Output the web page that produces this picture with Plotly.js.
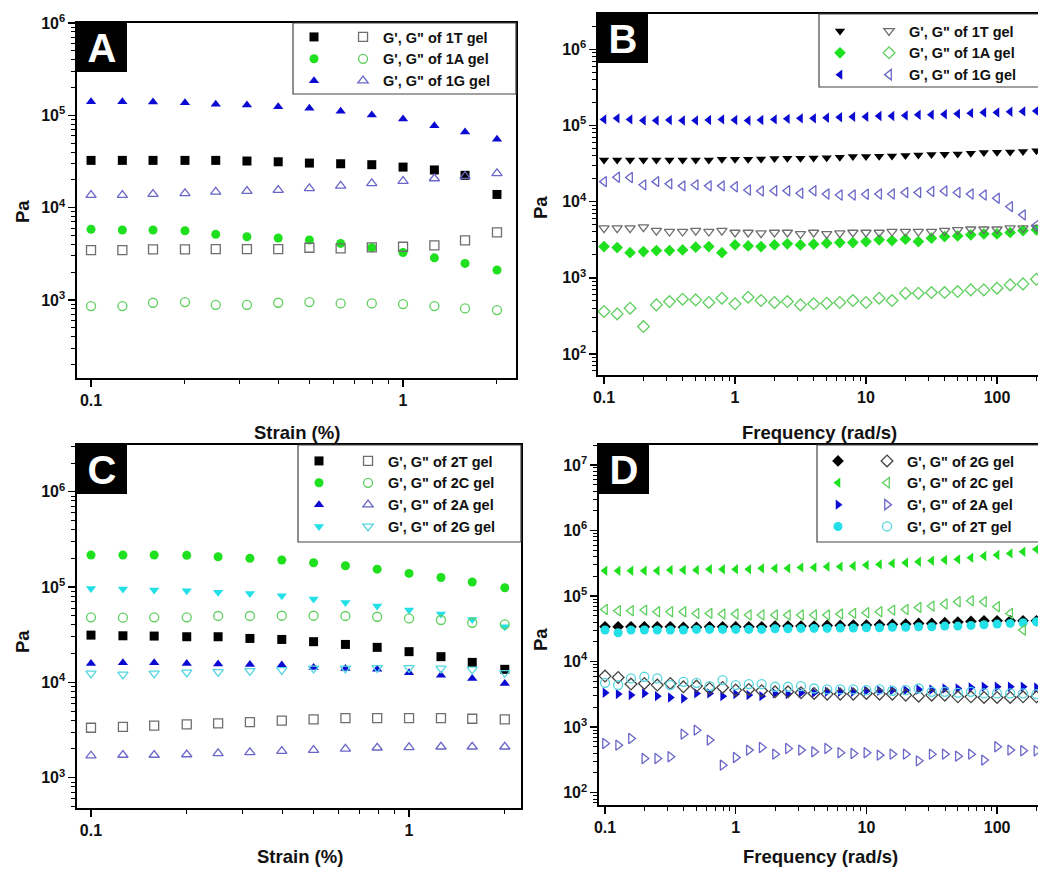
<!DOCTYPE html>
<html><head><meta charset="utf-8">
<script src="https://cdn.plot.ly/plotly-3.0.1.min.js"></script>
<style>html,body{margin:0;padding:0;background:#fff}#chart{width:1038px;height:869px}</style>
</head><body><div id="chart"></div>
<script>
// ---------- x values ----------
const strain = [0.1,0.126,0.158,0.2,0.251,0.316,0.398,0.501,0.631,0.794,1,1.26,1.58,2];
const freq = [0.1,0.126,0.158,0.2,0.251,0.316,0.398,0.501,0.631,0.794,1,1.26,1.58,2,2.51,3.16,3.98,5.01,6.31,7.94,10,12.6,15.8,20,25.1,31.6,39.8,50.1,63.1,79.4,100,126,158,200];
const freq33 = [0.1,0.126,0.158,0.2,0.251,0.316,0.398,0.501,0.631,0.794,1,1.26,1.58,2,2.51,3.16,3.98,5.01,6.31,7.94,10,12.6,15.8,20,25.1,31.6,39.8,50.1,63.1,79.4,100,126,158];

// ---------- Panel A (strain sweep, gels 1) ----------
const A_1T_Gp  = [32500,32500,32500,32500,32500,32000,31400,30400,29900,29200,27500,25600,22400,13900];
const A_1A_Gp  = [5820,5720,5720,5620,5140,4840,4690,4460,4100,3680,3270,2860,2490,2110];
const A_1G_Gp  = [140000,140000,139000,137000,132000,129000,124000,119000,111000,101000,91000,77000,66000,55000];
const A_1T_Gpp = [3470,3470,3530,3530,3560,3560,3560,3680,3620,3710,3770,3900,4420,5400];
const A_1A_Gpp = [860,860,933,948,887,887,933,948,918,918,903,860,811,778];
const A_1G_Gpp = [13700,13700,14000,14300,14800,15100,15500,16200,17200,18300,19400,20700,22000,23500];

// ---------- Panel B (frequency sweep, gels 1) ----------
const B_1T_Gp  = [35300,35300,35300,35300,35300,35300,35300,35300,35300,36000,36000,36000,36300,36700,37100,37100,37500,37800,38200,39000,39000,39400,39800,40200,41000,41400,41800,42300,43100,44000,44500,44900,45400,46700];
const B_1A_Gp  = [2570,2490,2140,2210,2280,2280,2320,2520,2570,2140,2700,2620,2570,2700,2790,2700,2760,2850,2900,2900,2990,3150,3080,3210,2990,3310,3480,3550,3660,3770,3770,3930,4170,4260];
const B_1G_Gp  = [120000,124000,120000,116000,116000,118000,116000,116000,118000,120000,118000,116000,118000,120000,122000,124000,124000,126000,128000,130000,130000,133000,133000,135000,138000,138000,140000,142000,145000,148000,148000,151000,153000,155000];
const B_1T_Gpp = [4480,4480,4480,4620,4170,4050,4050,4170,4050,4170,3930,3930,3850,3930,3930,3770,3930,3770,3850,3930,3930,3930,4050,4050,4050,4050,4170,4260,4340,4340,4340,4480,4480,4570];
const B_1A_Gpp = [361,336,399,229,441,488,524,513,474,540,455,556,503,474,488,441,455,464,474,503,474,540,503,628,628,640,640,660,694,694,730,807,832,957];
const B_1G_Gpp = [18300,20900,20700,16600,18300,17100,16100,16600,16100,16100,15700,14200,13800,13900,13900,12900,13900,12600,12200,12200,12500,12600,12600,13200,13200,13600,13800,13200,12600,12200,11100,8600,6700,4900];

// ---------- Panel C (strain sweep, gels 2) ----------
const C_2T_Gp  = [31300,30800,30600,30100,30100,28900,28200,26700,25000,23300,21000,18600,16200,13700];
const C_2C_Gp  = [217000,217000,217000,215000,208000,200000,192000,180000,167000,154000,139000,126000,113000,98300];
const C_2A_Gp  = [15800,16100,16100,15800,15600,15400,15200,14300,14000,13700,12600,11900,11000,9750];
const C_2G_Gp  = [96800,95300,92900,91500,87900,85700,81100,74800,69000,63100,57300,52000,45700,38300];
const C_2T_Gpp = [3340,3420,3510,3620,3710,3830,3960,4090,4220,4220,4220,4220,4150,4090];
const C_2C_Gpp = [48100,47700,48100,48100,49700,49700,50000,50000,49700,48800,46900,45100,42200,40600];
const C_2A_Gpp = [1700,1730,1730,1750,1800,1840,1900,1950,2010,2060,2080,2110,2110,2110];
const C_2G_Gpp = [12400,12100,12400,12700,12900,13200,13500,14000,14000,14200,14200,14000,13700,12600];

// ---------- Panel D (frequency sweep, gels 2) ----------
const D_2G_Gp  = [34000,34000,34000,34000,34000,34000,33300,33300,34000,34000,34000,34000,34000,34800,34800,34800,34800,35700,35700,36100,36100,36500,36900,37400,38300,38300,39200,40100,41000,42000,42000,42000,42000,42000];
const D_2C_Gp  = [244000,244000,244000,244000,244000,250000,250000,250000,256000,256000,256000,256000,265000,265000,265000,274000,274000,281000,281000,287000,297000,304000,315000,323000,334000,346000,355000,363000,385000,408000,423000,448000,475000,516000];
const D_2A_Gp  = [3340,3190,3080,3270,2970,2840,2740,3270,3270,2970,3190,3080,2970,3270,3190,3340,3340,3460,3460,3460,3590,3590,3670,3670,3760,3760,3890,3890,4030,4130,4130,4130,4130,4030];
const D_2T_Gp  = [30300,27600,30300,30300,30300,30300,30300,31000,31000,31000,31000,31000,31000,31700,31700,32100,32100,32100,32500,32500,32800,32800,33300,33300,34000,34000,34800,34800,35700,36500,37400,38300,39200,40600];
const D_2G_Gpp = [6010,5730,4540,4640,4380,4640,4130,4230,3890,4030,3670,3760,3590,3460,3460,3340,3270,3190,3190,3190,3270,3190,3190,3080,2970,3080,3080,2900,2900,2840,2840,2840,2900,2900];
const D_2C_Gpp = [62500,59700,59700,61100,57700,57700,57700,54400,54400,53100,53100,51300,51300,51300,51300,51300,51300,51300,53100,54400,55600,57700,61100,62500,67100,70300,75500,82000,84900,82000,68700,54400,30300];
const D_2A_Gpp = [564,531,671,333,333,353,782,900,634,263,345,446,490,387,472,446,420,472,406,396,406,374,387,387,306,387,387,361,387,314,501,446,436,436];
const D_2T_Gpp = [4750,4380,5530,5870,5530,4380,4920,4750,4230,5220,4380,4540,4540,4130,4130,4230,3890,3760,3760,3760,3670,3760,3590,3670,3890,3460,3460,3340,3460,3270,3270,3270,3270,3190];

// ---------- labels ----------
const namesA = ["G', G\" of 1T gel", "G', G\" of 1A gel", "G', G\" of 1G gel"];
const namesB = ["G', G\" of 1T gel", "G', G\" of 1A gel", "G', G\" of 1G gel"];
const namesC = ["G', G\" of 2T gel", "G', G\" of 2C gel", "G', G\" of 2A gel", "G', G\" of 2G gel"];
const namesD = ["G', G\" of 2G gel", "G', G\" of 2C gel", "G', G\" of 2A gel", "G', G\" of 2T gel"];
const strainTicks = [0.1, 1];
const strainTickText = ['0.1', '1'];
const freqTicks = [0.1, 1, 10, 100];
const freqTickText = ['0.1', '1', '10', '100'];

// ---------- colours ----------
const C_BLACK = '#000000', C_GRAY = '#6e6e6e', C_GREEN = '#1ee01e', C_LGREEN = '#5fcf5f',
      C_BLUE = '#0a0ad2', C_PURPLE = '#6a66c8', C_CYAN = '#22dfe8', C_LCYAN = '#55d6e0', C_DGRAY = '#444444';

const FONT = 'Liberation Sans, Arial, sans-serif';
const W = 1038, H = 869;
const px = v => v / W, py = v => 1 - v / H;

function mk(x, y, xa, ya, sym, color, open, name, leg, grp) {
  return {
    type: 'scatter', mode: 'markers', x: x, y: y, xaxis: xa, yaxis: ya,
    name: name, legend: leg, legendgroup: grp, showlegend: true, cliponaxis: true,
    marker: open ? {symbol: sym + '-open', size: 9, color: color, line: {width: 1.3, color: color}}
                 : {symbol: sym, size: 9, color: color, line: {width: 0}},
    hoverinfo: 'x+y'
  };
}

const data = [
  // A
  mk(strain, A_1T_Gp, 'x', 'y', 'square', C_BLACK, false, ' ', 'legend', 'Af'),
  mk(strain, A_1A_Gp, 'x', 'y', 'circle', C_GREEN, false, ' ', 'legend', 'Af'),
  mk(strain, A_1G_Gp, 'x', 'y', 'triangle-up', C_BLUE, false, ' ', 'legend', 'Af'),
  mk(strain, A_1T_Gpp, 'x', 'y', 'square', C_GRAY, true, namesA[0], 'legend', 'Ao'),
  mk(strain, A_1A_Gpp, 'x', 'y', 'circle', C_LGREEN, true, namesA[1], 'legend', 'Ao'),
  mk(strain, A_1G_Gpp, 'x', 'y', 'triangle-up', C_PURPLE, true, namesA[2], 'legend', 'Ao'),
  // B
  mk(freq, B_1T_Gp, 'x2', 'y2', 'triangle-down', C_BLACK, false, ' ', 'legend2', 'Bf'),
  mk(freq, B_1A_Gp, 'x2', 'y2', 'diamond', C_GREEN, false, ' ', 'legend2', 'Bf'),
  mk(freq, B_1G_Gp, 'x2', 'y2', 'triangle-left', C_BLUE, false, ' ', 'legend2', 'Bf'),
  mk(freq, B_1T_Gpp, 'x2', 'y2', 'triangle-down', C_GRAY, true, namesB[0], 'legend2', 'Bo'),
  mk(freq, B_1A_Gpp, 'x2', 'y2', 'diamond', C_LGREEN, true, namesB[1], 'legend2', 'Bo'),
  mk(freq, B_1G_Gpp, 'x2', 'y2', 'triangle-left', C_PURPLE, true, namesB[2], 'legend2', 'Bo'),
  // C
  mk(strain, C_2T_Gp, 'x3', 'y3', 'square', C_BLACK, false, ' ', 'legend3', 'Cf'),
  mk(strain, C_2C_Gp, 'x3', 'y3', 'circle', C_GREEN, false, ' ', 'legend3', 'Cf'),
  mk(strain, C_2A_Gp, 'x3', 'y3', 'triangle-up', C_BLUE, false, ' ', 'legend3', 'Cf'),
  mk(strain, C_2G_Gp, 'x3', 'y3', 'triangle-down', C_CYAN, false, ' ', 'legend3', 'Cf'),
  mk(strain, C_2T_Gpp, 'x3', 'y3', 'square', C_GRAY, true, namesC[0], 'legend3', 'Co'),
  mk(strain, C_2C_Gpp, 'x3', 'y3', 'circle', C_LGREEN, true, namesC[1], 'legend3', 'Co'),
  mk(strain, C_2A_Gpp, 'x3', 'y3', 'triangle-up', C_PURPLE, true, namesC[2], 'legend3', 'Co'),
  mk(strain, C_2G_Gpp, 'x3', 'y3', 'triangle-down', C_LCYAN, true, namesC[3], 'legend3', 'Co'),
  // D
  mk(freq, D_2G_Gp, 'x4', 'y4', 'diamond', C_BLACK, false, ' ', 'legend4', 'Df'),
  mk(freq, D_2C_Gp, 'x4', 'y4', 'triangle-left', C_GREEN, false, ' ', 'legend4', 'Df'),
  mk(freq, D_2A_Gp, 'x4', 'y4', 'triangle-right', C_BLUE, false, ' ', 'legend4', 'Df'),
  mk(freq, D_2T_Gp, 'x4', 'y4', 'circle', C_CYAN, false, ' ', 'legend4', 'Df'),
  mk(freq, D_2G_Gpp, 'x4', 'y4', 'diamond', C_DGRAY, true, namesD[0], 'legend4', 'Do'),
  mk(freq33, D_2C_Gpp, 'x4', 'y4', 'triangle-left', C_LGREEN, true, namesD[1], 'legend4', 'Do'),
  mk(freq, D_2A_Gpp, 'x4', 'y4', 'triangle-right', C_PURPLE, true, namesD[2], 'legend4', 'Do'),
  mk(freq, D_2T_Gpp, 'x4', 'y4', 'circle', C_LCYAN, true, namesD[3], 'legend4', 'Do')
];

function minorVals(lo, hi) {
  const v = [];
  for (let e = lo; e <= hi; e++) for (let m = 2; m <= 9; m++) v.push(m * Math.pow(10, e));
  return v;
}
const tickFont = {family: FONT, size: 16, weight: 'bold', color: '#111'};
function axis(type, domain, range, anchor, tickvals, ticktext, minor) {
  return {
    type: 'log', domain: domain, range: range, anchor: anchor, autorange: false,
    showline: true, linecolor: '#000', linewidth: 1.6, mirror: true,
    ticks: 'outside', ticklen: 7, tickwidth: 1.5, tickcolor: '#000',
    tickmode: 'array', tickvals: tickvals, ticktext: ticktext, tickfont: tickFont,
    showgrid: false, zeroline: false, automargin: false, fixedrange: true,
    minor: {tickmode: 'array', tickvals: minor, ticks: 'outside', ticklen: 4, tickwidth: 1, tickcolor: '#000', showgrid: false}
  };
}
function decTicks(lo, hi) {
  const v = [], t = [];
  for (let e = lo; e <= hi; e++) { v.push(Math.pow(10, e)); t.push('10<sup>' + e + '</sup>'); }
  return [v, t];
}
const yA = decTicks(3, 6), yB = decTicks(2, 6), yC = decTicks(3, 6), yD = decTicks(2, 7);

const legFont = {family: FONT, size: 14.5, weight: 'bold', color: '#111'};
function leg(x, y) {
  return {x: px(x), y: py(y), xanchor: 'left', yanchor: 'top', orientation: 'h', traceorder: 'grouped',
          bgcolor: 'rgba(0,0,0,0)', borderwidth: 0, font: legFont, tracegroupgap: 0, itemclick: false, itemdoubleclick: false};
}

const titleFont = {family: FONT, size: 18.5, weight: 'bold', color: '#111'};
function ann(text, x, y, angle) {
  return {text: text, xref: 'paper', yref: 'paper', x: px(x), y: py(y), xanchor: 'center', yanchor: 'middle',
          showarrow: false, font: titleFont, textangle: angle || 0};
}
function panel(letter, x, y) {
  return {text: letter, xref: 'paper', yref: 'paper', x: px(x), y: py(y), xanchor: 'left', yanchor: 'top',
          showarrow: false, bgcolor: '#000', width: 50, height: 49, borderpad: 0, borderwidth: 0,
          font: {family: FONT, size: 40, weight: 'bold', color: '#fff'}};
}
function box(x0, y0, x1, y1) {
  return {type: 'rect', xref: 'paper', yref: 'paper', x0: px(x0), x1: px(x1), y0: py(y1), y1: py(y0),
          line: {color: '#444', width: 1.2}, fillcolor: 'rgba(0,0,0,0)', layer: 'above'};
}

const layout = {
  width: W, height: H, margin: {l: 0, r: 0, t: 0, b: 0},
  paper_bgcolor: '#fff', plot_bgcolor: '#fff', showlegend: true,
  font: {family: FONT, color: '#111'},
  xaxis:  axis('log', [px(77), px(516)], [-1.045, 0.362], 'y', strainTicks, strainTickText, minorVals(-1, 0)),
  yaxis:  axis('log', [py(378), py(23)], [2.155, 6], 'x', yA[0], yA[1], minorVals(2, 5)),
  xaxis2: axis('log', [px(598), 1], [-1.046, 2.313], 'y2', freqTicks, freqTickText, minorVals(-1, 2)),
  yaxis2: axis('log', [py(375), py(14)], [1.724, 6.463], 'x2', yB[0], yB[1], minorVals(1, 6)),
  xaxis3: axis('log', [px(77), px(521)], [-1.044, 0.352], 'y3', strainTicks, strainTickText, minorVals(-1, 0)),
  yaxis3: axis('log', [py(808), py(445)], [2.682, 6.49], 'x3', yC[0], yC[1], minorVals(2, 6)),
  xaxis4: axis('log', [px(599), 1], [-1.046, 2.313], 'y4', freqTicks, freqTickText, minorVals(-1, 2)),
  yaxis4: axis('log', [py(805), py(445)], [1.812, 7.305], 'x4', yD[0], yD[1], minorVals(1, 7)),
  legend:  leg(294, 21),
  legend2: leg(820, 15),
  legend3: leg(299, 445),
  legend4: leg(818, 445),
  shapes: [box(293, 23, 516, 94), box(819, 14, 1045, 87), box(298, 445, 521, 542), box(817, 445, 1045, 542)],
  annotations: [
    panel('A', 77, 23), panel('B', 598, 14), panel('C', 77, 445), panel('D', 599, 445),
    ann('Pa', 22, 212, -90), ann('Pa', 540, 208, -90), ann('Pa', 22, 642, -90), ann('Pa', 540, 640, -90),
    ann('Strain (%)', 297, 432), ann('Frequency (rad/s)', 819, 432),
    ann('Strain (%)', 300, 856), ann('Frequency (rad/s)', 820, 856)
  ]
};

Plotly.newPlot('chart', data, layout, {staticPlot: true, displayModeBar: false});
</script>
</body></html>
